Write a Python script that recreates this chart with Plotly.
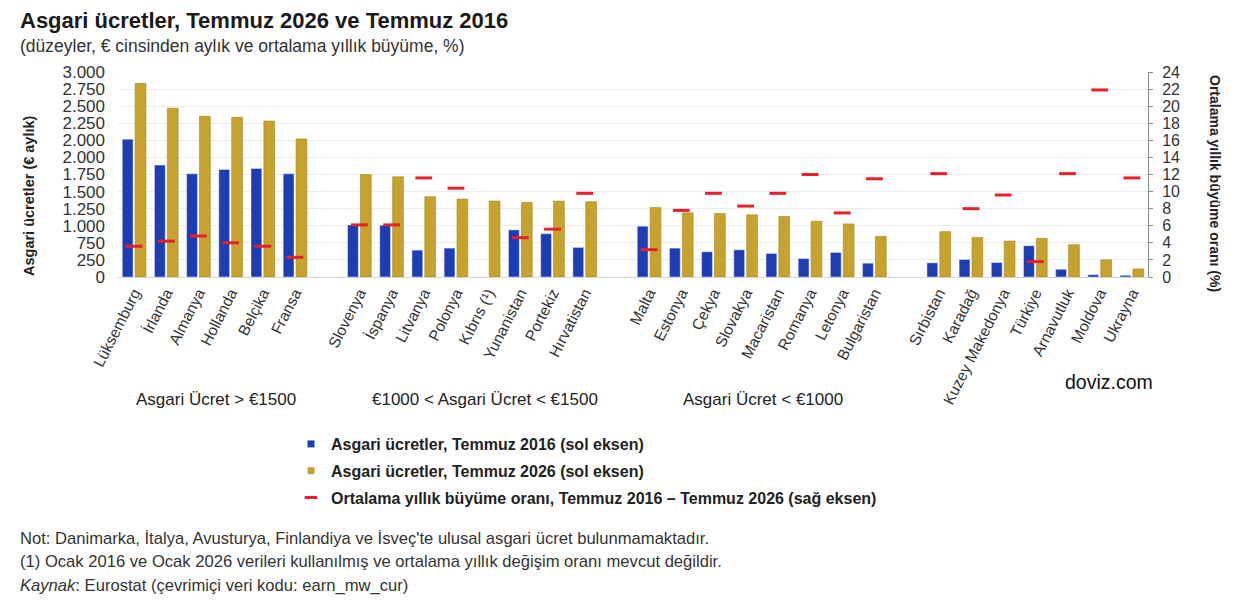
import plotly.graph_objects as go
from plotly.subplots import make_subplots

# data
countries = [
    "Lüksemburg", "İrlanda", "Almanya", "Hollanda", "Belçika", "Fransa",
    "Slovenya", "İspanya", "Litvanya", "Polonya", "Kıbrıs (¹)", "Yunanistan", "Portekiz", "Hırvatistan",
    "Malta", "Estonya", "Çekya", "Slovakya", "Macaristan", "Romanya", "Letonya", "Bulgaristan",
    "Sırbistan", "Karadağ", "Kuzey Makedonya", "Türkiye", "Arnavutluk", "Moldova", "Ukrayna",
]
wage_2016 = [
    2016, 1638, 1510, 1574, 1589, 1510,
    762, 757, 393, 423, None, 689, 634, 433,
    743, 423, 369, 398, 344, 270, 359, 202,
    207, 256, 211, 457, 113, 34, 25,
]
wage_2026 = [
    2833, 2469, 2351, 2336, 2282, 2021,
    1500, 1466, 1175, 1141, 1111, 1092, 1111, 1102,
    1018, 939, 930, 910, 885, 816, 777, 595,
    664, 580, 526, 566, 472, 251, 118,
]
growth = [
    3.6, 4.2, 4.8, 4.0, 3.6, 2.3,
    6.1, 6.1, 11.6, 10.4, None, 4.6, 5.6, 9.8,
    3.2, 7.8, 9.8, 8.3, 9.8, 12.0, 7.5, 11.5,
    12.1, 8.0, 9.6, 1.8, 12.1, 21.9, 11.6,
]
group_sizes = [6, 8, 8, 7]
group_labels = ["Asgari Ücret > €1500", "€1000 < Asgari Ücret < €1500", "Asgari Ücret < €1000"]
series_names = [
    "Asgari ücretler, Temmuz 2016 (sol eksen)",
    "Asgari ücretler, Temmuz 2026 (sol eksen)",
    "Ortalama yıllık büyüme oranı, Temmuz 2016 – Temmuz 2026 (sağ eksen)",
]

left_ticks = list(range(0, 3001, 250))
left_ticktext = ["0", "250", "750", "1.000", "1.250", "1.500", "1.750",
                 "2.000", "2.000", "2.250", "2.500", "2.750", "3.000"]

notes = [
    "Not: Danimarka, İtalya, Avusturya, Finlandiya ve İsveç'te ulusal asgari ücret bulunmamaktadır.",
    "(1) Ocak 2016 ve Ocak 2026 verileri kullanılmış ve ortalama yıllık değişim oranı mevcut değildir.",
    "<i>Kaynak</i>: Eurostat (çevrimiçi veri kodu: earn_mw_cur)",
]

# insert an empty slot between groups
x, y16, y26, gr = [], [], [], []
i = 0
for g, n in enumerate(group_sizes):
    if g > 0:
        x.append(" " * g)
        y16.append(None); y26.append(None); gr.append(None)
    for _ in range(n):
        x.append(countries[i]); y16.append(wage_2016[i]); y26.append(wage_2026[i]); gr.append(growth[i])
        i += 1

# page has an 8px body margin, so the figure is drawn 8px smaller and shifted
OFF = 8
W, H = 1258 - OFF, 602 - OFF
L, T = 118 - OFF, 72 - OFF
R = W - (1148 - OFF)
B = H - (277 - OFF)


def px(v):
    return (v - OFF - L) / (W - L - R)


def py(v):
    return (H - B - (v - OFF)) / (H - T - B)


FONT = "Liberation Sans, Arial, sans-serif"
BLUE = "#1f3db3"
GOLD = "#c6a22e"
RED = "#e8202a"

fig = make_subplots(specs=[[{"secondary_y": True}]])
fig.add_trace(go.Bar(x=x, y=y16, name=series_names[0], marker=dict(color=BLUE),
                     showlegend=False), secondary_y=False)
fig.add_trace(go.Bar(x=x, y=y26, name=series_names[1],
                     marker=dict(color=GOLD, line=dict(color="#a8891c", width=0.6)),
                     showlegend=False), secondary_y=False)
fig.add_trace(go.Scatter(x=x, y=gr, mode="markers", name=series_names[2],
                         marker=dict(symbol="line-ew", size=12, line=dict(color=RED, width=3)),
                         showlegend=False), secondary_y=True)

# legend-only entries with small symbols like the original
legend_markers = [
    dict(symbol="square", size=7, color=BLUE),
    dict(symbol="square", size=7, color=GOLD),
    dict(symbol="line-ew", size=9, line=dict(color=RED, width=3)),
]
for k, (name, mk) in enumerate(zip(series_names, legend_markers)):
    fig.add_trace(go.Scatter(x=[None], y=[None], mode="markers", name=name, marker=mk,
                             legendgroup=str(k)), secondary_y=k == 2)

fig.update_layout(
    width=W, height=H,
    margin=dict(l=L, r=R, t=T, b=B),
    paper_bgcolor="white", plot_bgcolor="white",
    font=dict(family=FONT, color="#222"),
    barmode="group", bargap=0.2, bargroupgap=0.16,
    showlegend=True,
    legend=dict(x=px(291), y=py(427), xanchor="left", yanchor="top",
                font=dict(size=16, weight="bold", color="#222"),
                traceorder="grouped", tracegroupgap=3, bgcolor="rgba(0,0,0,0)"),
)
fig.update_xaxes(type="category", categoryorder="array", categoryarray=x,
                 range=[-0.5, len(x) - 0.5], domain=[0, 1],
                 tickangle=-63, tickfont=dict(size=15.5, color="#333"),
                 showline=True, linecolor="#d5d5d5", showgrid=False, ticks="")
fig.update_yaxes(range=[0, 3000], tickvals=left_ticks, ticktext=left_ticktext,
                 tickfont=dict(size=17, color="#333"), ticklabelstandoff=12,
                 showgrid=True, gridcolor="#ececec",
                 zeroline=False, showline=False, ticks="", secondary_y=False)
fig.update_yaxes(range=[0, 24], dtick=2, tickfont=dict(size=16, color="#333"),
                 showgrid=False, zeroline=False, showline=True, linecolor="#888",
                 ticks="outside", ticklen=4, tickcolor="#888", ticklabelstandoff=6,
                 secondary_y=True)

ann = [
    dict(text="<b>Asgari ücretler, Temmuz 2026 ve Temmuz 2016</b>", x=18, y=20, size=22, color="#1a1a1a"),
    dict(text="(düzeyler, € cinsinden aylık ve ortalama yıllık büyüme, %)", x=18, y=46, size=17.5, color="#333"),
]
for k, t in enumerate(notes):
    ann.append(dict(text=t, x=18, y=538 + 23.5 * k, size=16.6, color="#333"))
for a in ann:
    fig.add_annotation(text=a["text"], x=px(a["x"]), y=py(a["y"]), xref="paper", yref="paper",
                       xanchor="left", yanchor="middle", showarrow=False,
                       font=dict(size=a["size"], color=a["color"]))

fig.add_annotation(text="doviz.com", x=px(1109), y=py(382), xref="paper", yref="paper",
                   xanchor="center", yanchor="middle", showarrow=False,
                   font=dict(size=19.5, color="#111"))
fig.add_annotation(text="<b>Asgari ücretler (€ aylık)</b>", x=px(29), y=py(196), xref="paper", yref="paper",
                   xanchor="center", yanchor="middle", textangle=-90, showarrow=False,
                   font=dict(size=14.5, color="#222"))
fig.add_annotation(text="<b>Ortalama yıllık büyüme oranı (%)</b>", x=px(1215), y=py(183), xref="paper",
                   yref="paper", xanchor="center", yanchor="middle", textangle=90, showarrow=False,
                   font=dict(size=14, color="#222"))

for cx, label in zip([216, 485, 763], group_labels):
    fig.add_annotation(text=label, x=px(cx), y=py(399), xref="paper", yref="paper",
                       xanchor="center", yanchor="middle", showarrow=False,
                       font=dict(size=17, color="#222"))

fig.write_html("out.html")
